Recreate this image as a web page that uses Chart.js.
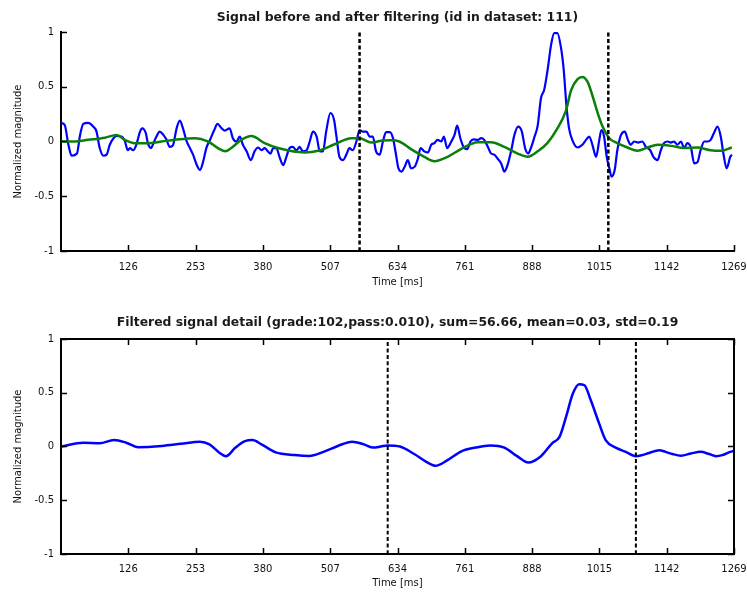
<!DOCTYPE html>
<html>
<head>
<meta charset="utf-8">
<script src="https://cdn.jsdelivr.net/npm/chart.js@4.4.1/dist/chart.umd.min.js"></script>
<style>
  body { margin: 0; background: #fff; }
  canvas { position: absolute; left: 0; }
</style>
</head>
<body>
<canvas id="topChart" width="747" height="300" style="top:0"></canvas>
<canvas id="bottomChart" width="747" height="298" style="top:300px"></canvas>
<script>
// raw signal (top, blue)
const rawTime = [0, 7, 14, 20, 30, 36, 42, 51, 61, 67, 73, 80, 86, 92, 99, 105, 114, 120, 126, 130,
  136, 142, 149, 153, 160, 164, 170, 174, 180, 186, 193, 199, 205, 211, 218, 224, 230, 237, 243, 249,
  256, 262, 268, 274, 281, 289, 295, 303, 309, 318, 324, 331, 337, 343, 350, 358, 365, 372, 378, 384,
  390, 395, 400, 406, 412, 419, 425, 431, 437, 444, 450, 456, 463, 469, 475, 482, 488, 494, 500, 508,
  515, 519, 525, 532, 538, 544, 550, 557, 563, 569, 576, 582, 588, 594, 601, 607, 613, 620, 626, 631,
  636, 642, 648, 654, 660, 667, 673, 678, 685, 692, 698, 704, 710, 717, 722, 728, 736, 742, 747, 753,
  759, 766, 772, 778, 786, 792, 798, 805, 811, 817, 823, 830, 836, 842, 849, 855, 862, 869, 875, 881,
  886, 892, 899, 905, 911, 918, 924, 930, 936, 943, 948, 953, 958, 964, 974, 983, 990, 996, 1002, 1009,
  1015, 1019, 1024, 1029, 1034, 1038, 1044, 1049, 1056, 1063, 1069, 1074, 1081, 1088, 1096, 1103, 1111, 1117, 1125, 1131,
  1137, 1144, 1150, 1156, 1162, 1169, 1175, 1181, 1188, 1194, 1200, 1206, 1213, 1219, 1225, 1231, 1238, 1244, 1249, 1255,
  1262, 1265];
const rawValue = [0.17, 0.15, -0.03, -0.13, -0.11, 0.06, 0.16, 0.17, 0.135, 0.09, -0.06, -0.13, -0.12, -0.03, 0.03, 0.05, 0.045, 0.01, -0.08, -0.06,
  -0.08, -0.03, 0.09, 0.12, 0.075, -0.02, -0.06, -0.02, 0.045, 0.09, 0.06, 0.015, -0.05, -0.035, 0.12, 0.19, 0.12, 0.0, -0.06, -0.12,
  -0.215, -0.26, -0.185, -0.06, 0.015, 0.105, 0.16, 0.12, 0.1, 0.12, 0.03, 0.0, 0.045, -0.03, -0.09, -0.17, -0.09, -0.055, -0.08, -0.06,
  -0.09, -0.11, -0.06, -0.06, -0.14, -0.215, -0.14, -0.06, -0.05, -0.08, -0.05, -0.09, -0.08, 0.0, 0.09, 0.045, -0.09, -0.09, 0.09, 0.26,
  0.195, 0.06, -0.14, -0.17, -0.12, -0.06, -0.08, 0.0, 0.105, 0.09, 0.09, 0.045, 0.045, -0.09, -0.12, 0.0, 0.085, 0.085, 0.03, -0.1,
  -0.24, -0.275, -0.23, -0.17, -0.245, -0.23, -0.155, -0.06, -0.09, -0.1, -0.03, -0.015, 0.015, 0.0, 0.045, -0.06, 0.0, 0.06, 0.145, 0.03,
  -0.05, -0.07, 0.0, 0.02, 0.015, 0.03, 0.015, -0.05, -0.11, -0.12, -0.155, -0.2, -0.275, -0.215, -0.08, 0.06, 0.135, 0.09, -0.06, -0.11,
  -0.06, 0.03, 0.15, 0.395, 0.47, 0.67, 0.88, 0.99, 0.99, 0.85, 0.65, 0.33, 0.12, 0.015, -0.055, -0.03, 0.015, 0.045, -0.03, -0.14,
  0.015, 0.105, 0.045, -0.14, -0.245, -0.32, -0.26, -0.08, 0.06, 0.09, 0.015, -0.03, 0.0, -0.01, 0.0, -0.05, -0.08, -0.14, -0.17, -0.08,
  -0.015, 0.0, -0.01, 0.0, -0.03, 0.0, -0.06, -0.015, -0.06, -0.2, -0.19, -0.08, 0.0, 0.0, 0.015, 0.075, 0.135, 0.045, -0.11, -0.245,
  -0.14, -0.12];

// filtered signal (top, green)
const filtTime = [0, 26, 51, 83, 105, 120, 139, 164, 190, 215, 252, 277, 296, 310, 321, 340, 359, 384, 409, 434,
  459, 485, 516, 547, 563, 585, 607, 623, 638, 660, 685, 704, 729, 754, 786, 811, 836, 861, 880, 899,
  917, 936, 952, 962, 974, 983, 993, 1002, 1012, 1021, 1034, 1049, 1068, 1087, 1106, 1125, 1150, 1175, 1200, 1225,
  1244, 1265];
const filtValue = [0.0, 0.0, 0.015, 0.035, 0.06, 0.015, -0.015, -0.015, 0.0, 0.015, 0.03, 0.0, -0.06, -0.09, -0.06, 0.015, 0.05, -0.015, -0.06, -0.087,
  -0.1, -0.085, -0.025, 0.03, 0.03, -0.01, 0.01, 0.012, 0.0, -0.07, -0.14, -0.18, -0.14, -0.07, -0.007, -0.007, -0.05, -0.11, -0.14, -0.09,
  -0.015, 0.12, 0.28, 0.47, 0.57, 0.59, 0.545, 0.42, 0.26, 0.14, 0.03, -0.015, -0.055, -0.085, -0.055, -0.03, -0.04, -0.06, -0.055, -0.08,
  -0.085, -0.055];

// filtered signal detail (bottom, blue)
const detailTime = [0, 42, 73, 100, 123, 145, 190, 226, 262, 280, 298, 311, 329, 347, 361, 378, 405, 441, 468, 495,
  522, 549, 571, 589, 603, 616, 639, 666, 688, 706, 728, 755, 782, 809, 836, 860, 881, 905, 926, 940,
  952, 965, 977, 987, 999, 1015, 1027, 1046, 1065, 1084, 1096, 1109, 1128, 1140, 1153, 1169, 1188, 1206, 1222, 1235,
  1247, 1262, 1269];
const detailValue = [0.0, 0.035, 0.03, 0.06, 0.035, -0.006, 0.005, 0.025, 0.045, 0.02, -0.055, -0.09, -0.01, 0.05, 0.06, 0.02, -0.055, -0.08, -0.088, -0.05,
  0.005, 0.045, 0.02, -0.01, 0.0, 0.01, 0.0, -0.07, -0.14, -0.18, -0.13, -0.045, -0.01, 0.01, -0.01, -0.09, -0.15, -0.09, 0.03, 0.09,
  0.27, 0.49, 0.58, 0.57, 0.43, 0.21, 0.06, -0.01, -0.05, -0.09, -0.08, -0.06, -0.035, -0.05, -0.07, -0.085, -0.065, -0.05, -0.07, -0.09,
  -0.08, -0.05, -0.04];

// dashed markers
const markersTop = [563, 1032];
const markersBottom = [616, 1084];

// ticks
const xTickValues = [126.9, 253.8, 380.7, 507.6, 634.5, 761.4, 888.3, 1015.2, 1142.1, 1269];
const xTickLabels = ['126', '253', '380', '507', '634', '761', '888', '1015', '1142', '1269'];
const yTickValues = [-1, -0.5, 0, 0.5, 1];
const yTickLabels = ['-1', '-0.5', '0', '0.5', '1'];

const titleTop = 'Signal before and after filtering (id in dataset: 111)';
const titleBottom = 'Filtered signal detail (grade:102,pass:0.010), sum=56.66, mean=0.03, std=0.19';

Chart.defaults.font.family = '"DejaVu Sans", sans-serif';
Chart.defaults.font.size = 10;
Chart.defaults.color = '#111';

const toPoints = (xs, ys) => xs.map((x, i) => ({ x: x, y: ys[i] }));

// MATLAB style ticks pointing into the axes, optional full box
const innerTicks = {
  id: 'innerTicks',
  afterDatasetsDraw(chart, args, opts) {
    const { ctx, chartArea: a, scales: { x, y } } = chart;
    const len = opts.len || 6;
    ctx.save();
    ctx.strokeStyle = '#000';
    ctx.lineWidth = 1.5;
    ctx.beginPath();
    x.ticks.forEach(t => {
      const px = Math.round(x.getPixelForValue(t.value)) + 0.5;
      ctx.moveTo(px, a.bottom); ctx.lineTo(px, a.bottom - len);
      if (opts.box) { ctx.moveTo(px, a.top); ctx.lineTo(px, a.top + len); }
    });
    y.ticks.forEach(t => {
      const py = Math.round(y.getPixelForValue(t.value)) + 0.5;
      ctx.moveTo(a.left, py); ctx.lineTo(a.left + len, py);
      if (opts.box) { ctx.moveTo(a.right, py); ctx.lineTo(a.right - len, py); }
    });
    ctx.stroke();
    if (opts.box) {
      ctx.lineWidth = 2;
      ctx.beginPath();
      ctx.moveTo(a.left, a.top); ctx.lineTo(a.right, a.top); ctx.lineTo(a.right, a.bottom);
      ctx.stroke();
    }
    ctx.restore();
  }
};

function markerSets(list, width) {
  return list.map(m => ({
    data: [{ x: m, y: -1 }, { x: m, y: 1 }],
    borderColor: '#000', borderWidth: width, borderDash: [4, 2.5],
    pointRadius: 0, order: 0
  }));
}

function makeChart(id, datasets, g) {
  return new Chart(document.getElementById(id), {
    type: 'line',
    data: { datasets: datasets },
    options: {
      responsive: false,
      animation: false,
      events: [],
      layout: { padding: { left: 0, right: 13, top: 0, bottom: 0 } },
      elements: { line: { cubicInterpolationMode: 'monotone' } },
      plugins: {
        legend: { display: false },
        tooltip: { enabled: false },
        title: {
          display: true, text: g.title, color: '#1a1a1a', fullSize: false,
          font: { family: '"DejaVu Sans", sans-serif', size: 12.4, weight: 'bold' },
          padding: { top: g.titleTop, bottom: g.titleBottom }
        },
        innerTicks: { len: 6, box: g.box }
      },
      scales: {
        x: {
          type: 'linear', min: 0, max: 1269,
          afterBuildTicks: s => { s.ticks = xTickValues.map(v => ({ value: v })); },
          afterFit: s => { s.height = g.xHeight; s.paddingLeft = 0; s.paddingRight = 0; },
          grid: { display: false, drawTicks: false },
          border: { display: true, color: '#000', width: 2 },
          ticks: { padding: g.tickPad, autoSkip: false, maxRotation: 0, callback: (v, i) => xTickLabels[i] },
          title: { display: true, text: 'Time [ms]', padding: { top: 0, bottom: g.xTitlePad } }
        },
        y: {
          type: 'linear', min: -1, max: 1,
          afterBuildTicks: s => { s.ticks = yTickValues.map(v => ({ value: v })); },
          afterFit: s => { s.width = 61; },
          grid: { display: false, drawTicks: false },
          border: { display: true, color: '#000', width: 2 },
          ticks: { padding: 7, callback: (v, i) => yTickLabels[i] },
          title: { display: true, text: 'Normalized magnitude', font: { size: 10 }, padding: { top: 12, bottom: 0 } }
        }
      }
    },
    plugins: [innerTicks]
  });
}

makeChart('topChart', [
  ...markerSets(markersTop, 2.5),
  { data: toPoints(filtTime, filtValue), borderColor: '#0a800a', borderWidth: 2.5, pointRadius: 0, order: 1 },
  { data: toPoints(rawTime, rawValue), borderColor: '#0000ff', borderWidth: 2.2, pointRadius: 0, order: 2 }
], { title: titleTop, titleTop: 10, titleBottom: 7.1, xHeight: 49, tickPad: 10, xTitlePad: 12, box: false });

makeChart('bottomChart', [
  ...markerSets(markersBottom, 2),
  { data: toPoints(detailTime, detailValue), borderColor: '#0000ff', borderWidth: 2.5, pointRadius: 0, order: 1 }
], { title: titleBottom, titleTop: 15.5, titleBottom: 8.6, xHeight: 44, tickPad: 9, xTitlePad: 9, box: true });
</script>
</body>
</html>
